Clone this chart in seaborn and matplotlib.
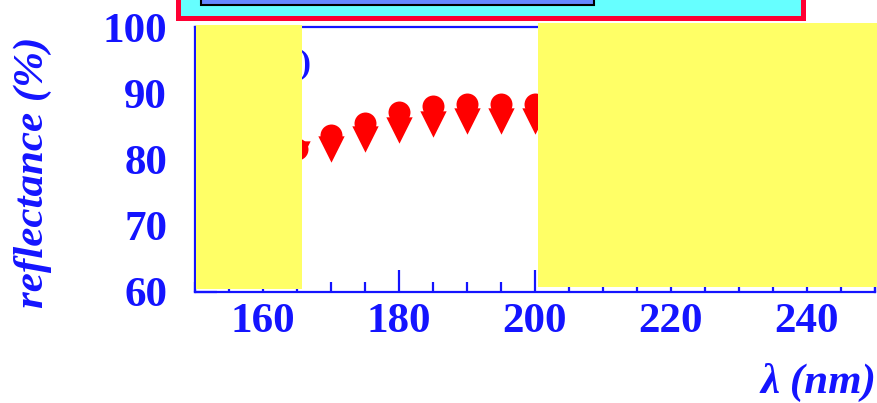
import numpy as np
import pandas as pd
import seaborn as sns
import matplotlib.pyplot as plt
from matplotlib.patches import Rectangle

# values
wavelength = [165, 170, 175, 180, 185, 190, 195, 200]
refl_upper = [81.6, 83.7, 85.5, 87.2, 88.1, 88.4, 88.4, 88.4]
refl_lower = [80.8, 81.6, 83.1, 84.5, 85.4, 85.8, 85.8, 85.8]
x_ticks = [160, 180, 200, 220, 240]
y_ticks = [60, 70, 80, 90, 100]

W, H = 877, 403
BLUE = '#1414ff'
YELLOW = '#ffff66'

sns.set_style('ticks')
plt.rcParams['font.family'] = ['Liberation Serif', 'DejaVu Serif']
plt.rcParams['font.weight'] = 'bold'


def px_rect(x0, y0, x1, y1, **kw):
    # rectangle given in image pixels (origin top-left)
    return Rectangle((x0 / W, 1 - y1 / H), (x1 - x0) / W, (y1 - y0) / H,
                     transform=fig.transFigure, **kw)


fig = plt.figure(figsize=(W / 100, H / 100), dpi=100)
ax = fig.add_axes([195 / W, 1 - 292 / H, (875 - 195) / W, (292 - 27) / H])

upper = pd.DataFrame({'wavelength': wavelength, 'reflectance': refl_upper})
lower = pd.DataFrame({'wavelength': wavelength, 'reflectance': refl_lower})
sns.scatterplot(data=lower, x='wavelength', y='reflectance', marker='v',
                color='red', s=360, linewidth=0, ax=ax, zorder=3)
sns.scatterplot(data=upper, x='wavelength', y='reflectance', marker='o',
                color='red', s=250, linewidth=0, ax=ax, zorder=3)

ax.set_xlim(150, 250)
ax.set_ylim(60, 100)
ax.set_xticks(x_ticks)
ax.set_xticks(np.arange(150, 251, 5), minor=True)
ax.set_yticks(y_ticks)
ax.set_xlabel('')
ax.set_ylabel('')
for s in ax.spines.values():
    s.set_color(BLUE)
    s.set_linewidth(1.6)
ax.tick_params(axis='both', which='both', direction='in', color=BLUE,
               labelcolor=BLUE, labelsize=31, width=1.6)
ax.tick_params(axis='both', which='major', length=16)
ax.tick_params(axis='x', which='minor', length=7)
ax.tick_params(axis='x', pad=8)
ax.tick_params(axis='y', pad=20)

ax.text(167.2, 94.3, '(b)', ha='right', va='center', color=BLUE, fontsize=24)

fig.text(33 / W, 1 - 172 / H, 'reflectance (%)', rotation=90, style='italic',
         fontsize=31, ha='center', va='center', color=BLUE)
fig.text(876 / W, 1 - 382 / H, 'λ (nm)', style='italic', fontsize=31,
         ha='right', va='center', color=BLUE)

# covering boxes of the slide
fig.add_artist(px_rect(196, 25, 302, 289, facecolor=YELLOW, edgecolor='none', zorder=5))
fig.add_artist(px_rect(538, 23, 877, 287, facecolor=YELLOW, edgecolor='none', zorder=5))
fig.add_artist(px_rect(177.5, -15, 802.5, 17.5, facecolor='#66ffff',
                       edgecolor='#ff0033', linewidth=3.6, zorder=5))
fig.add_artist(px_rect(201, -5, 594, 5, facecolor='#6688ff',
                       edgecolor='black', linewidth=1.5, zorder=6))

fig.savefig('out.png', dpi=100)
